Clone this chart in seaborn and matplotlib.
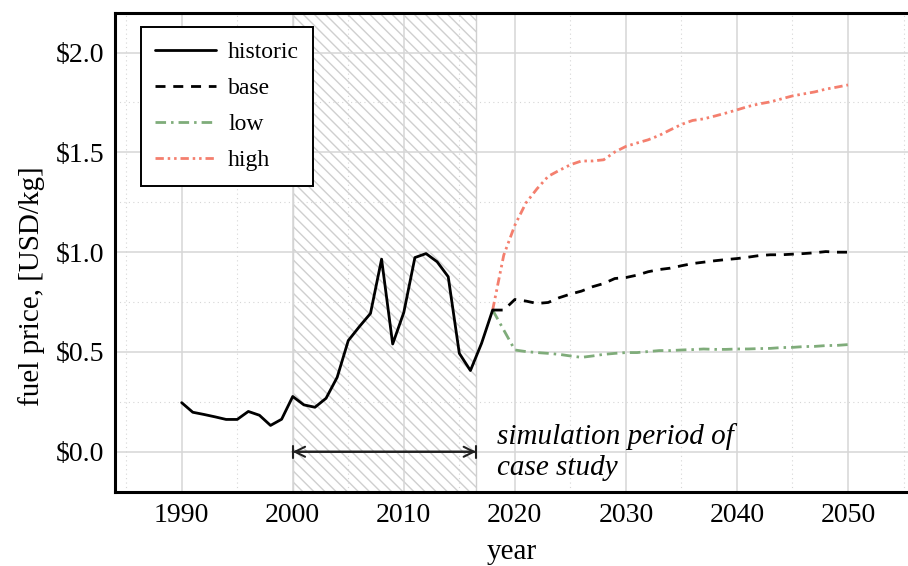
import numpy as np
import pandas as pd
import seaborn as sns
import matplotlib.pyplot as plt
from matplotlib.ticker import MultipleLocator, FuncFormatter

# historic fuel price (USD/kg), 1990-2018
hist_years = list(range(1990, 2019))
hist_price = [0.246, 0.198, 0.187, 0.175, 0.162, 0.162, 0.202, 0.183, 0.132, 0.163,
              0.277, 0.235, 0.223, 0.268, 0.373, 0.557, 0.627, 0.693, 0.965, 0.540,
              0.698, 0.973, 0.993, 0.952, 0.877, 0.493, 0.407, 0.543, 0.710]

# scenarios 2018-2050
scen_years = list(range(2018, 2051))
base_price = [0.710, 0.710, 0.763, 0.755, 0.743, 0.748, 0.772, 0.790, 0.805, 0.827,
              0.843, 0.868, 0.873, 0.885, 0.902, 0.913, 0.920, 0.932, 0.943, 0.950,
              0.957, 0.963, 0.968, 0.975, 0.983, 0.987, 0.987, 0.990, 0.993, 0.997,
              1.003, 1.000, 1.000]
low_price = [0.710, 0.610, 0.510, 0.502, 0.497, 0.493, 0.488, 0.480, 0.473, 0.480,
             0.488, 0.493, 0.497, 0.497, 0.502, 0.507, 0.507, 0.510, 0.512, 0.515,
             0.513, 0.513, 0.515, 0.515, 0.517, 0.518, 0.522, 0.523, 0.527, 0.528,
             0.532, 0.533, 0.537]
high_price = [0.710, 0.985, 1.135, 1.247, 1.318, 1.380, 1.410, 1.438, 1.457, 1.457,
              1.463, 1.502, 1.530, 1.547, 1.563, 1.585, 1.613, 1.640, 1.660, 1.668,
              1.682, 1.697, 1.713, 1.730, 1.743, 1.753, 1.768, 1.783, 1.793, 1.803,
              1.817, 1.827, 1.838]

sim_start, sim_end = 2000, 2016.5

sns.set_style("white")
plt.rcParams['font.family'] = ['Liberation Serif', 'DejaVu Serif']
plt.rcParams['text.color'] = 'black'
plt.rcParams['xtick.color'] = 'black'
plt.rcParams['ytick.color'] = 'black'
plt.rcParams['axes.labelcolor'] = 'black'
plt.rcParams['hatch.color'] = '#cccccc'
plt.rcParams['hatch.linewidth'] = 1.0

fig = plt.figure(figsize=(9.08, 5.66), dpi=100)
ax = fig.add_axes([0.1267, 0.1313, 0.8733, 0.8463])

# simulation period shading
ax.axvspan(sim_start, sim_end, facecolor='white', edgecolor='#cfcfcf',
           hatch='\\\\\\', linewidth=1.0, zorder=0.5)

lw = 2.0
sns.lineplot(x=hist_years, y=hist_price, color='black', linewidth=lw,
             label='historic', ax=ax, zorder=3)
sns.lineplot(x=scen_years, y=base_price, color='black', linewidth=lw,
             linestyle=(0, (3.6, 2.8)), label='base', ax=ax, zorder=3)
sns.lineplot(x=scen_years, y=low_price, color='#7fac7a', linewidth=lw,
             linestyle=(0, (3.8, 1.8, 0.9, 1.8)), label='low', ax=ax, zorder=2)
sns.lineplot(x=scen_years, y=high_price, color='#f47f6e', linewidth=lw,
             linestyle=(0, (3.0, 1.4, 0.9, 1.4, 0.9, 1.4)), label='high', ax=ax, zorder=2)

# arrow across simulation period
ax.annotate('', xy=(sim_end, 0.0), xytext=(sim_start, 0.0),
            arrowprops=dict(arrowstyle='<->', color='#222222', lw=1.5,
                            shrinkA=0, shrinkB=0, mutation_scale=18))
ax.annotate('', xy=(sim_end, 0.0), xytext=(sim_start, 0.0),
            arrowprops=dict(arrowstyle='|-|, widthA=0.45, widthB=0.45', color='#222222',
                            lw=1.5, shrinkA=0, shrinkB=0))
ax.text(2018.4, 0.0, 'simulation period of\ncase study', style='italic',
        fontsize=21, va='center', ha='left', linespacing=1.25)

ax.set_xlim(1984, 2055.4)
ax.set_ylim(-0.2, 2.2)
ax.xaxis.set_major_locator(MultipleLocator(10))
ax.xaxis.set_minor_locator(MultipleLocator(5))
ax.yaxis.set_major_locator(MultipleLocator(0.5))
ax.yaxis.set_minor_locator(MultipleLocator(0.25))
ax.yaxis.set_major_formatter(FuncFormatter(lambda v, p: '\\$%.1f' % v))

ax.grid(which='major', color='#d6d6d6', linewidth=1.1, linestyle='-')
ax.grid(which='minor', color='#d6d6d6', linewidth=0.8, linestyle=(0, (1, 3)))
ax.set_axisbelow(True)

ax.tick_params(which='major', direction='in', length=7, width=1.4, labelsize=20,
               pad=8, top=False, right=False)
ax.tick_params(which='minor', direction='in', length=4, width=1.0,
               top=False, right=False)
for side in ['left', 'bottom', 'top']:
    ax.spines[side].set_linewidth(2.2)
    ax.spines[side].set_color('black')
ax.spines['right'].set_visible(False)

ax.set_xlabel('year', fontsize=21, labelpad=8)
ax.set_ylabel('fuel price, [USD/kg]', fontsize=21)
ax.yaxis.set_label_coords(-0.088, 0.43)

leg = ax.legend(loc='upper left', bbox_to_anchor=(0.0324, 0.9695), borderaxespad=0,
                fontsize=17, handlelength=2.6, frameon=True, fancybox=False,
                edgecolor='black', labelspacing=0.62, borderpad=0.6, handletextpad=0.5)
leg.get_frame().set_linewidth(1.4)
leg.get_frame().set_alpha(1)

fig.savefig('out.png', dpi=100)
